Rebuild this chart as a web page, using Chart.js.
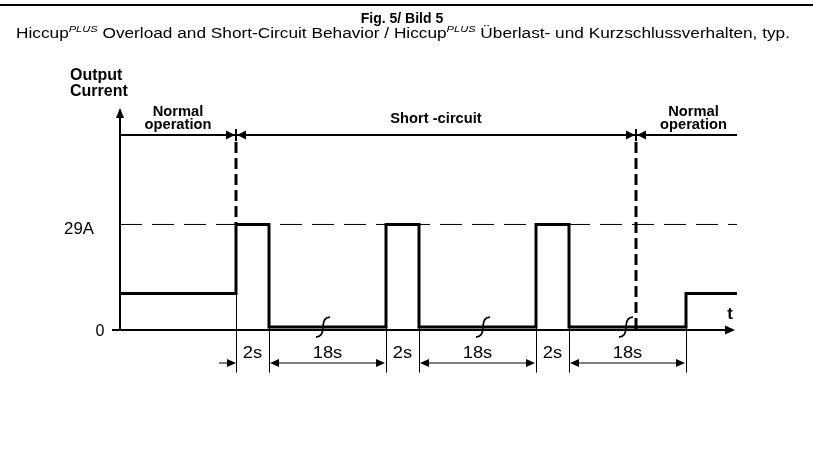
<!DOCTYPE html>
<html><head><meta charset="utf-8">
<script src="https://cdn.jsdelivr.net/npm/chart.js@4/dist/chart.umd.min.js"></script>
<style>html,body{margin:0;padding:0;background:#fff}#wrap{width:813px;height:453px;position:relative}</style>
</head><body><div id="wrap"><canvas id="c" width="813" height="453"></canvas></div>
<script>
// Schematic time axis (not to scale) and output current in A
const sigX = [0, 11.6, 11.6, 14.9, 14.9, 26.6, 26.6, 29.9, 29.9, 41.6, 41.6, 44.9, 44.9, 56.6, 56.6, 61.7];
const sigY = [10, 10, 29, 29, 0.8, 0.8, 29, 29, 0.8, 0.8, 29, 29, 0.8, 0.8, 10, 10];
const edgeTimes = [11.6, 14.9, 26.6, 29.9, 41.6, 44.9, 56.6];
const durationLabels = ['2s', '18s', '2s', '18s', '2s', '18s'];
const limitCurrent = 29;
const normalCurrent = 10;
const yTickValues = [0, 29];
const yTickLabels = ['0', '29A'];
const phaseBounds = [0, 11.6, 51.6, 61.7];
const phaseLabels = [['Normal', 'operation'], ['Short -circuit'], ['Normal', 'operation']];
const breakTimes = [20.3, 36.3, 50.6];
const xMax = 61.7, yMax = 61;

const FONT = '"Liberation Sans", Arial, Helvetica, sans-serif';

function txt(ctx, s, x, y, font, align, sx) {
  ctx.save();
  ctx.font = font;
  ctx.translate(x, y);
  ctx.scale(sx || 1, 1);
  ctx.textAlign = align || 'left';
  ctx.textBaseline = 'alphabetic';
  ctx.fillStyle = '#000';
  ctx.fillText(s, 0, 0);
  ctx.restore();
}
function arrow(ctx, tx, ty, dir, len, hw) {
  ctx.beginPath();
  ctx.moveTo(tx, ty);
  if (dir === 'r') { ctx.lineTo(tx - len, ty - hw); ctx.lineTo(tx - len, ty + hw); }
  if (dir === 'l') { ctx.lineTo(tx + len, ty - hw); ctx.lineTo(tx + len, ty + hw); }
  if (dir === 'u') { ctx.lineTo(tx - hw, ty + len); ctx.lineTo(tx + hw, ty + len); }
  ctx.closePath();
  ctx.fillStyle = '#000';
  ctx.fill();
}
function line(ctx, x1, y1, x2, y2, w, dash) {
  ctx.save();
  ctx.beginPath();
  ctx.lineWidth = w;
  ctx.strokeStyle = '#000';
  ctx.setLineDash(dash || []);
  ctx.moveTo(x1, y1); ctx.lineTo(x2, y2);
  ctx.stroke();
  ctx.restore();
}

const diagramPlugin = {
  id: 'diagram',
  beforeDatasetsDraw(chart) {
    const ctx = chart.ctx, xs = chart.scales.x, ys = chart.scales.y;
    // thin extension lines for the time dimensions
    edgeTimes.forEach(t => {
      const x = Math.round(xs.getPixelForValue(t)) + 0.5;
      line(ctx, x, ys.getPixelForValue(normalCurrent), x, ys.getPixelForValue(-11.7), 1);
    });
  },
  afterDraw(chart) {
    const ctx = chart.ctx, xs = chart.scales.x, ys = chart.scales.y;
    const W = chart.width;
    const px = v => xs.getPixelForValue(v), py = v => ys.getPixelForValue(v);

    // top rule
    line(ctx, 0, 5, W, 5, 2);
    // title
    txt(ctx, 'Fig. 5/ Bild 5', 402, 23, 'bold 14px ' + FONT, 'center');
    // subtitle with superscripts
    const parts = [['Hiccup', 0], ['PLUS', 1], [' Overload and Short-Circuit Behavior / Hiccup', 0], ['PLUS', 1], [' \u00dcberlast- und Kurzschlussverhalten, typ.', 0]];
    const fN = '14px ' + FONT, fS = 'italic 9px ' + FONT;
    let total = 0;
    parts.forEach(p => { ctx.font = p[1] ? fS : fN; total += ctx.measureText(p[0]).width; });
    const sx = 774 / total;
    let cx = 16;
    parts.forEach(p => {
      ctx.font = p[1] ? fS : fN;
      const w = ctx.measureText(p[0]).width;
      txt(ctx, p[0], cx, p[1] ? 32 : 38, p[1] ? fS : fN, 'left', sx);
      cx += w * sx;
    });

    // axis title
    txt(ctx, 'Output', 70, 80, 'bold 16px ' + FONT, 'left');
    txt(ctx, 'Current', 70, 96, 'bold 16px ' + FONT, 'left');

    const x0 = px(0), y0 = py(0);
    // y axis with arrow
    line(ctx, x0, y0 + 1, x0, py(yMax) + 8, 2);
    arrow(ctx, x0, py(yMax), 'u', 10, 4);
    // x axis (baseline) with arrow
    line(ctx, x0 - 8, y0, px(61.5) - 8, y0, 2);
    arrow(ctx, px(61.5), y0, 'r', 10, 4.5);
    txt(ctx, 't', 730, 319, 'bold 17px ' + FONT, 'center');

    // y tick labels
    txt(ctx, yTickLabels[0], x0 - 15.5, py(yTickValues[0]) + 6, '16px ' + FONT, 'right');
    txt(ctx, yTickLabels[1], x0 - 26, py(yTickValues[1]) + 10, '16px ' + FONT, 'right', 1.05);

    // phase dimension line at top
    const yTop = 135;
    line(ctx, x0, yTop, px(xMax), yTop, 2);
    [phaseBounds[1], phaseBounds[2]].forEach((t, i) => {
      const x = px(t);
      arrow(ctx, x - 1, yTop, 'r', 9, 4.5);
      arrow(ctx, x + 1, yTop, 'l', 9, 4.5);
      line(ctx, x, yTop - 6, x, yTop + 6, 2);
      const yEnd = i === 0 ? py(limitCurrent) : y0;
      line(ctx, x, yTop + 7, x, yEnd, 3, [11, 5]);
    });
    // phase labels
    const labelShift = [0, 0, 7];
    for (let i = 0; i < phaseLabels.length; i++) {
      const c = (px(phaseBounds[i]) + px(phaseBounds[i + 1])) / 2 + labelShift[i];
      const lab = phaseLabels[i];
      if (lab.length === 2) {
        txt(ctx, lab[0], c, 116, 'bold 14px ' + FONT, 'center', 1.05);
        txt(ctx, lab[1], c, 128.5, 'bold 14px ' + FONT, 'center', 1.05);
      } else {
        txt(ctx, lab[0], c, 122.5, 'bold 14px ' + FONT, 'center', 1.05);
      }
    }

    // bottom time dimensions
    const yDim = 363;
    arrow(ctx, px(edgeTimes[0]), yDim, 'r', 9, 4);
    line(ctx, px(edgeTimes[0]) - 17, yDim, px(edgeTimes[0]) - 6, yDim, 1);
    for (let i = 0; i < durationLabels.length; i++) {
      const a = px(edgeTimes[i]), b = px(i + 1 < edgeTimes.length ? edgeTimes[i + 1] : edgeTimes[i]);
      const c = (a + b) / 2;
      txt(ctx, durationLabels[i], c, 358, '17px ' + FONT, 'center', 1.08);
      if (durationLabels[i] === '18s') {
        line(ctx, a + 5, yDim, b - 5, yDim, 1);
        arrow(ctx, a + 1, yDim, 'l', 9, 4);
        arrow(ctx, b - 1, yDim, 'r', 9, 4);
      }
    }

    // break marks on the low-current segments
    breakTimes.forEach(t => {
      const x = px(t), y = py(sigY[4]);
      ctx.save();
      ctx.beginPath();
      ctx.lineWidth = 1.7;
      ctx.strokeStyle = '#000';
      ctx.moveTo(x - 7, y + 10);
      ctx.quadraticCurveTo(x, y + 10, x, y);
      ctx.quadraticCurveTo(x, y - 10, x + 7, y - 10);
      ctx.stroke();
      ctx.restore();
    });
  }
};

new Chart(document.getElementById('c'), {
  type: 'line',
  data: {
    datasets: [
      {
        data: sigX.map((x, i) => ({ x, y: sigY[i] })),
        borderColor: '#000', borderWidth: 3, pointRadius: 0, tension: 0,
        borderJoinStyle: 'miter', borderCapStyle: 'butt', fill: false, clip: false
      },
      {
        data: [{ x: 0, y: limitCurrent }, { x: xMax, y: limitCurrent }],
        borderColor: '#000', borderWidth: 1, borderDash: [22, 10], pointRadius: 0, fill: false, clip: false
      }
    ]
  },
  options: {
    responsive: false, animation: false, devicePixelRatio: 1,
    layout: { padding: { left: 120, right: 76, top: 108, bottom: 123 } },
    scales: {
      x: { type: 'linear', min: 0, max: xMax, display: false },
      y: { type: 'linear', min: 0, max: yMax, display: false }
    },
    plugins: { legend: { display: false }, tooltip: { enabled: false }, title: { display: false } }
  },
  plugins: [diagramPlugin]
});
</script></body></html>
